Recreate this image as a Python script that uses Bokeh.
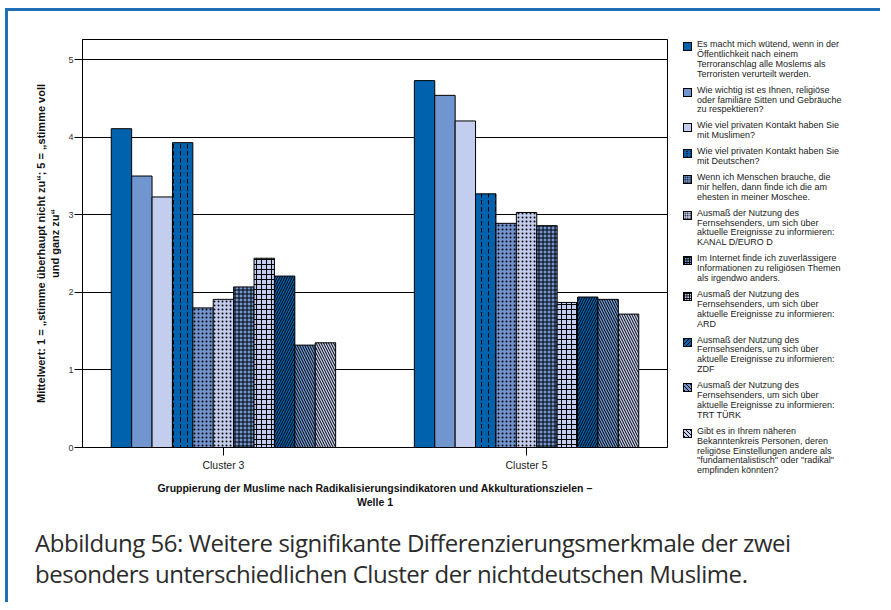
from bokeh.plotting import figure
from bokeh.models import FixedTicker, Range1d, Div
from bokeh.layouts import column, row
from bokeh.embed import file_html
from bokeh.resources import INLINE

# ---------------- data ----------------
clusters = ["Cluster 3", "Cluster 5"]
series_labels = [
    "Es macht mich wütend, wenn in der\nÖffentlichkeit nach einem\nTerroranschlag alle Moslems als\nTerroristen verurteilt werden.",
    "Wie wichtig ist es Ihnen, religiöse\noder familiäre Sitten und Gebräuche\nzu respektieren?",
    "Wie viel privaten Kontakt haben Sie\nmit Muslimen?",
    "Wie viel privaten Kontakt haben Sie\nmit Deutschen?",
    "Wenn ich Menschen brauche, die\nmir helfen, dann finde ich die am\nehesten in meiner Moschee.",
    "Ausmaß der Nutzung des\nFernsehsenders, um sich über\naktuelle Ereignisse zu informieren:\nKANAL D/EURO D",
    "Im Internet finde ich zuverlässigere\nInformationen zu religiösen Themen\nals irgendwo anders.",
    "Ausmaß der Nutzung des\nFernsehsenders, um sich über\naktuelle Ereignisse zu informieren:\nARD",
    "Ausmaß der Nutzung des\nFernsehsenders, um sich über\naktuelle Ereignisse zu informieren:\nZDF",
    "Ausmaß der Nutzung des\nFernsehsenders, um sich über\naktuelle Ereignisse zu informieren:\nTRT TÜRK",
    "Gibt es in Ihrem näheren\nBekanntenkreis Personen, deren\nreligiöse Einstellungen andere als\n\"fundamentalistisch\" oder \"radikal\"\nempfinden könnten?",
]
cluster3_values = [4.11, 3.50, 3.23, 3.93, 1.80, 1.91, 2.07, 2.44, 2.21, 1.32, 1.35]
cluster5_values = [4.73, 4.54, 4.21, 3.27, 2.89, 3.03, 2.86, 1.87, 1.94, 1.91, 1.72]
y_ticks = [0, 1, 2, 3, 4, 5]
y_axis_title = "Mittelwert: 1 = „stimme überhaupt nicht zu“; 5 = „stimme voll\nund ganz zu“"
x_axis_title = "Gruppierung der Muslime nach Radikalisierungsindikatoren und Akkulturationszielen –\nWelle 1"
caption_lines = [
    "Abbildung 56: Weitere signifikante Differenzierungsmerkmale der zwei",
    "besonders unterschiedlichen Cluster der nichtdeutschen Muslime.",
]

# ---------------- styles ----------------
DARK, MED, LIGHT = "#0062ac", "#7095cf", "#c3ceee"
fill_colors = [DARK, MED, LIGHT, DARK, MED, LIGHT, MED, LIGHT, DARK, MED, LIGHT]
hatch_patterns = [" ", " ", " ", ":", ".", ".", "+", "+", "/", "\\", "\\"]
hatch_scales = [6, 6, 6, 7, 4, 4, 4, 5, 5, 5, 5]
FRAME_BLUE = "#1f6fb8"

# CSS equivalents of the hatch patterns for the legend swatches
css_patterns = {
    " ": "",
    ":": "radial-gradient(#000 0.7px, transparent 1.1px) 1px 0/4px 2.5px, ",
    ".": "radial-gradient(#000 0.6px, transparent 1px) 0 0/2.5px 2.5px, ",
    "+": "linear-gradient(#000 1px, transparent 1px) 0 0/2.5px 2.5px, "
         "linear-gradient(90deg, #000 1px, transparent 1px) 0 0/2.5px 2.5px, ",
    "/": "repeating-linear-gradient(-45deg, #000 0 1px, transparent 1px 3px), ",
    "\\": "repeating-linear-gradient(45deg, #000 0 1px, transparent 1px 3px), ",
}

bar_w = 0.0673
n = len(series_labels)

# ---------------- main chart ----------------
p = figure(width=667, height=506, output_backend="svg", toolbar_location=None,
           x_range=Range1d(-0.465, 1.465), y_range=Range1d(0, 5.26),
           min_border_left=74, min_border_right=8, min_border_top=28,
           min_border_bottom=70)
p.outline_line_color = "black"
p.outline_line_width = 1
p.background_fill_color = "white"

for j in range(n):
    xs = [ci + (j - (n - 1) / 2) * bar_w for ci in range(len(clusters))]
    tops = [cluster3_values[j], cluster5_values[j]]
    p.vbar(x=xs, top=tops, bottom=0, width=bar_w,
           fill_color=fill_colors[j], line_color="black", line_width=1,
           hatch_pattern=hatch_patterns[j], hatch_color="black",
           hatch_scale=hatch_scales[j], hatch_weight=1)

p.xgrid.visible = False
p.ygrid.ticker = FixedTicker(ticks=y_ticks)
p.ygrid.grid_line_color = "black"
p.ygrid.grid_line_width = 1

p.yaxis.ticker = FixedTicker(ticks=y_ticks)
p.yaxis.major_tick_out = 8
p.yaxis.major_tick_in = 0
p.yaxis.minor_tick_line_color = None
p.yaxis.major_label_standoff = 1
p.yaxis.major_label_text_font = "Liberation Sans"
p.yaxis.major_label_text_font_size = "9px"
p.yaxis.major_label_text_color = "#333333"
p.yaxis.axis_line_color = "black"
p.yaxis.axis_label = y_axis_title
p.yaxis.axis_label_text_font = "Liberation Sans"
p.yaxis.axis_label_text_font_style = "bold"
p.yaxis.axis_label_text_font_size = "11px"
p.yaxis.axis_label_text_color = "#111111"
p.yaxis.axis_label_standoff = 4

p.xaxis.ticker = FixedTicker(ticks=list(range(len(clusters))))
p.xaxis.major_label_overrides = {i: c for i, c in enumerate(clusters)}
p.xaxis.major_tick_out = 8
p.xaxis.major_tick_in = 0
p.xaxis.minor_tick_line_color = None
p.xaxis.major_label_standoff = 3
p.xaxis.major_label_text_font = "Liberation Sans"
p.xaxis.major_label_text_font_size = "10.5px"
p.xaxis.major_label_text_color = "#222222"
p.xaxis.axis_line_color = "black"
p.xaxis.axis_label = x_axis_title
p.xaxis.axis_label_text_font = "Liberation Sans"
p.xaxis.axis_label_text_font_style = "bold"
p.xaxis.axis_label_text_font_size = "10.5px"
p.xaxis.axis_label_text_color = "#111111"
p.xaxis.axis_label_standoff = 8

# ---------------- legend panel (HTML) ----------------
LINE, GAP, TOP0, SW = 9.9, 6.0, 31.0, 9
parts = []
yy = TOP0
for lab, col, pat in zip(series_labels, fill_colors, hatch_patterns):
    parts.append(
        f'<div style="position:absolute;left:8px;top:{yy:.1f}px;width:{SW}px;height:{SW}px;'
        f'box-sizing:border-box;border:1px solid #000;background:{css_patterns[pat]}{col};"></div>'
    )
    txt = lab.replace("&", "&amp;").replace("<", "&lt;").replace("\n", "<br>")
    parts.append(
        f'<div style="position:absolute;left:22px;top:{yy - 2:.1f}px;white-space:nowrap;">{txt}</div>'
    )
    yy += (lab.count("\n") + 1) * LINE + GAP

legend_html = (
    '<div style="position:relative;width:205px;height:506px;'
    "font-family:'Liberation Sans',Arial,sans-serif;font-size:9px;"
    f'line-height:{LINE}px;color:#222222;">' + "".join(parts) + "</div>"
)
legend_div = Div(text=legend_html, width=205, height=506, margin=0)

# ---------------- caption ----------------
cap = Div(text="<br>".join(caption_lines), width=860, height=85, margin=0,
          styles={"font-family": "'Open Sans'", "font-size": "24px",
                  "letter-spacing": "-0.45px", "line-height": "31px",
                  "color": "#2b2b2b", "padding-top": "10px", "padding-left": "27px",
                  "white-space": "nowrap"})

root = column(row(p, legend_div), cap,
              styles={"border-top": f"3px solid {FRAME_BLUE}",
                      "border-left": f"3px solid {FRAME_BLUE}",
                      "margin-left": "5px", "margin-top": "8px"})

open("out.html", "w").write(file_html(root, INLINE))
